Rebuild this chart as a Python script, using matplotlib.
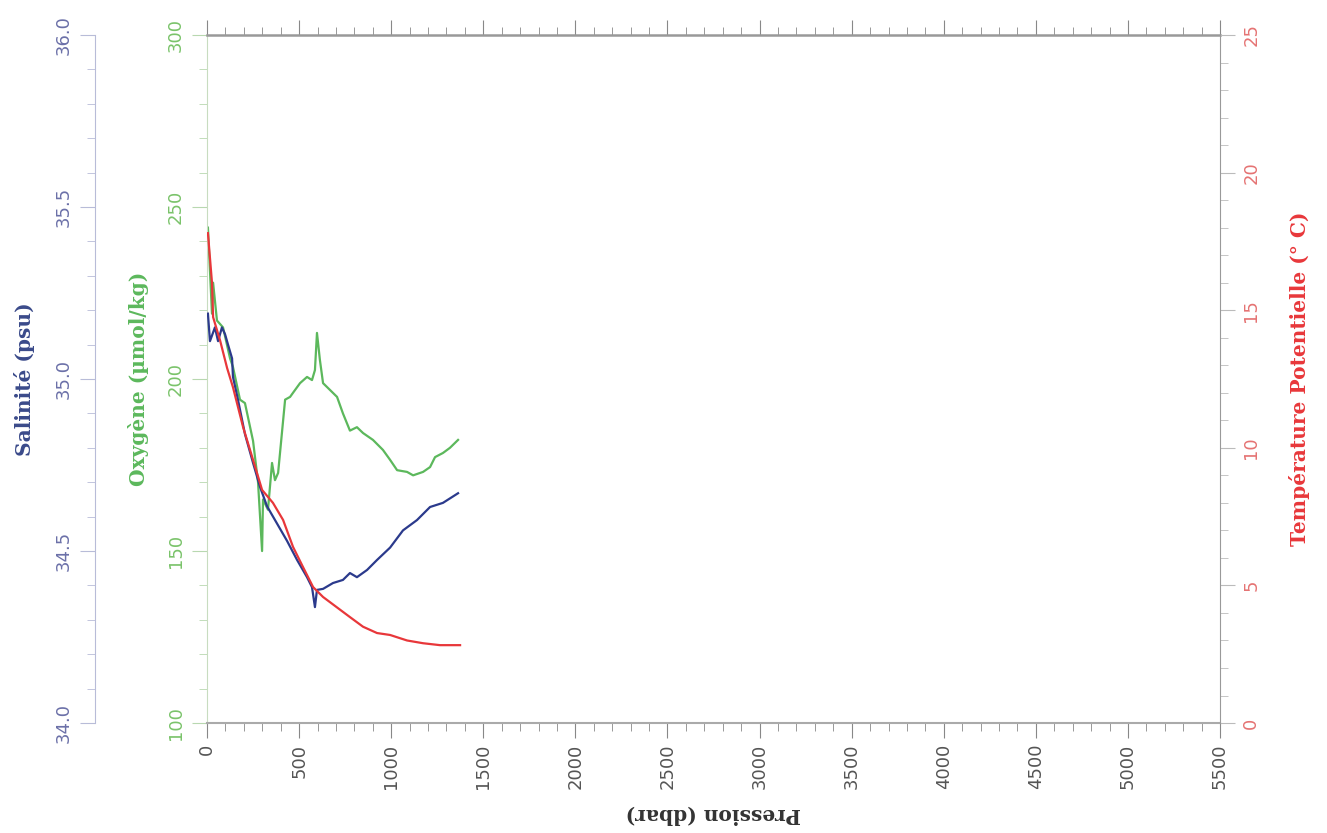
import matplotlib.pyplot as plt
from matplotlib.ticker import MultipleLocator

# profile values
pres_o = [5, 27, 33, 54, 87, 125, 141, 179, 206, 250, 277, 299, 304, 331, 353, 369, 386,
          424, 451, 467, 505, 543, 570, 586, 597, 613, 630, 668, 706, 738, 776, 814, 847,
          901, 955, 994, 1032, 1086, 1119, 1173, 1211, 1238, 1281, 1319, 1363]
oxy = [244, 219, 228, 217, 215, 206, 203.5, 194, 193, 182, 170, 150, 165, 162, 175.6, 170.6, 172.7,
       194, 194.8, 196, 198.8, 200.6, 199.7, 202.6, 213.4, 205.5, 198.8, 196.8, 194.8, 190, 185, 186, 184.3,
       182.3, 179.4, 176.5, 173.5, 173, 172, 173, 174.4, 177.3, 178.5, 180, 182.3]

pres_t = [5, 27, 33, 71, 109, 141, 196, 250, 299, 358, 413, 467, 521, 576, 630, 706,
          776, 847, 923, 994, 1086, 1173, 1265, 1374]
temp = [17.8, 16.0, 14.75, 13.9, 12.9, 12.2, 10.75, 9.56, 8.47, 8.0, 7.38, 6.4, 5.67, 4.94, 4.58, 4.2,
        3.85, 3.5, 3.27, 3.2, 3.0, 2.9, 2.83, 2.83]

pres_s = [5, 16, 43, 60, 81, 98, 114, 136, 141, 168, 206, 250, 288, 326, 380, 434, 489, 543,
          570, 586, 597, 630, 684, 738, 776, 814, 869, 923, 994, 1064, 1140, 1211, 1281, 1363]
sal = [35.19, 35.11, 35.15, 35.11, 35.15, 35.13, 35.10, 35.06, 35.006, 34.94, 34.84, 34.756, 34.686,
       34.63, 34.58, 34.53, 34.474, 34.424, 34.395, 34.337, 34.387, 34.39, 34.407, 34.416, 34.436,
       34.424, 34.445, 34.474, 34.51, 34.56, 34.59, 34.628, 34.64, 34.668]

c_sal, c_oxy, c_tmp = '#2b3a8c', '#5cb85c', '#e8373a'
lab = {'family': 'DejaVu Serif', 'weight': 'bold', 'size': 14.5}
tsize = 13

fig = plt.figure(figsize=(13.27, 8.33), dpi=100)
ax = fig.add_axes([0.156, 0.132, 0.7634, 0.826])

ax.plot(pres_o, oxy, color=c_oxy, lw=1.6)
ax.set_xlim(0, 5500)
ax.set_ylim(100, 300)
ax.xaxis.set_major_locator(MultipleLocator(500))
ax.xaxis.set_minor_locator(MultipleLocator(100))
ax.yaxis.set_major_locator(MultipleLocator(50))
ax.yaxis.set_minor_locator(MultipleLocator(10))
ax.tick_params(axis='x', which='both', top=True, direction='out', colors='#888888',
               labelcolor='#555555', labelsize=tsize, labelrotation=90, pad=4)
ax.tick_params(axis='x', which='major', length=11)
ax.tick_params(axis='x', which='minor', length=5.5)
ax.tick_params(axis='y', which='both', colors='#b8d8b0', labelcolor='#7ac36a',
               labelsize=tsize, labelrotation=90, pad=5)
ax.tick_params(axis='y', which='major', length=11)
ax.tick_params(axis='y', which='minor', length=5.5)
for lbl in ax.get_yticklabels():
    lbl.set_va('center')
ax.spines['left'].set_color('#c8dcc0')
ax.spines['bottom'].set_color('#aaaaaa')
ax.spines['bottom'].set_linewidth(1.5)
ax.spines['top'].set_color('#999999')
ax.spines['top'].set_linewidth(1.8)
ax.spines['right'].set_visible(False)
ax.set_xlabel('Pression (dbar)', rotation=180, color='#333333', labelpad=11, **lab)
ax.set_ylabel('Oxygène (µmol/kg)', color=c_oxy, labelpad=13, **lab)

# salinity on an offset left axis
ax_s = ax.twinx()
ax_s.plot(pres_s, sal, color=c_sal, lw=1.6)
ax_s.set_ylim(34.0, 36.0)
ax_s.spines['left'].set_position(('axes', -0.1106))
ax_s.spines['left'].set_visible(True)
ax_s.spines['left'].set_color('#b8bcd8')
for s in ['right', 'top', 'bottom']:
    ax_s.spines[s].set_visible(False)
ax_s.yaxis.set_ticks_position('left')
ax_s.yaxis.set_label_position('left')
ax_s.yaxis.set_major_locator(MultipleLocator(0.5))
ax_s.yaxis.set_minor_locator(MultipleLocator(0.1))
ax_s.yaxis.set_major_formatter('{x:.1f}')
ax_s.tick_params(axis='y', which='both', colors='#b8bcd8', labelcolor='#6b70a8',
                 labelsize=tsize, labelrotation=90, pad=5)
ax_s.tick_params(axis='y', which='major', length=11)
ax_s.tick_params(axis='y', which='minor', length=5.5)
for lbl in ax_s.get_yticklabels():
    lbl.set_va('center')
ax_s.set_ylabel('Salinité (psu)', color='#3a4a8a', labelpad=14, **lab)

# temperature on the right
ax_t = ax.twinx()
ax_t.plot(pres_t, temp, color=c_tmp, lw=1.6)
ax_t.set_ylim(0, 25)
for s in ['left', 'top', 'bottom']:
    ax_t.spines[s].set_visible(False)
ax_t.spines['right'].set_color('#999999')
ax_t.yaxis.set_major_locator(MultipleLocator(5))
ax_t.yaxis.set_minor_locator(MultipleLocator(1))
ax_t.tick_params(axis='y', which='both', colors='#bbbbbb', labelcolor='#e57373',
                 labelsize=tsize, labelrotation=90, pad=5)
ax_t.tick_params(axis='y', which='major', length=11)
ax_t.tick_params(axis='y', which='minor', length=5.5)
for lbl in ax_t.get_yticklabels():
    lbl.set_va('center')
ax_t.set_ylabel('Température Potentielle (° C)', color=c_tmp, labelpad=21, **lab)

fig.savefig('out.png', dpi=100)
